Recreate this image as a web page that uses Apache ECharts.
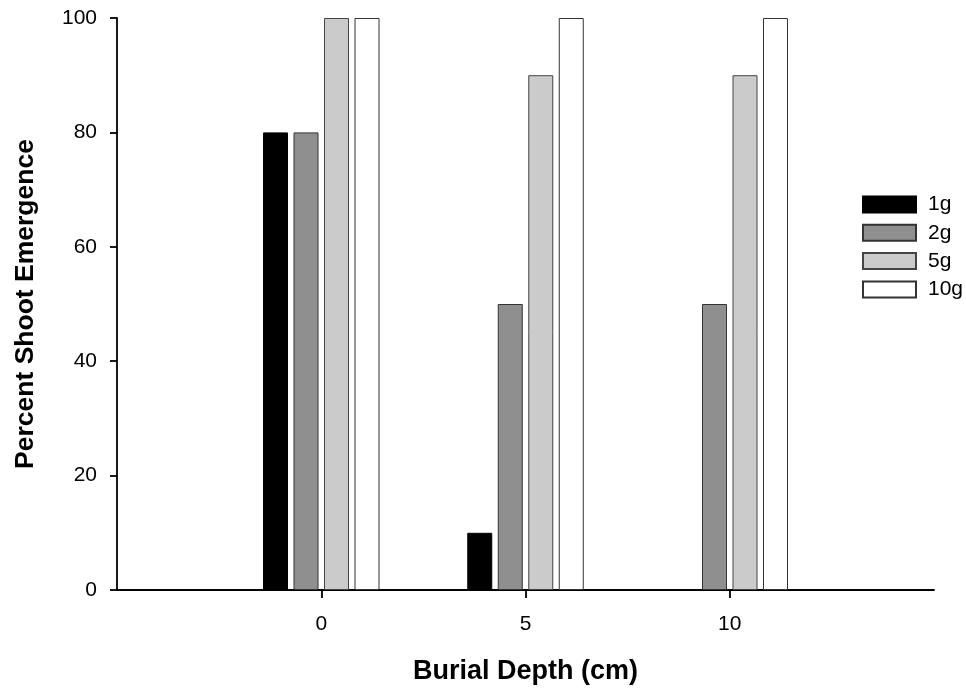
<!DOCTYPE html>
<html>
<head>
<meta charset="utf-8">
<script src="https://cdn.jsdelivr.net/npm/echarts@6/dist/echarts.min.js"></script>
<style>
html,body{margin:0;padding:0;background:#fff;}
#main{width:966px;height:688px;}
</style>
</head>
<body>
<div id="main"></div>
<script>
// Data
var depthLabels = ['0', '5', '10'];
var seriesNames = ['1g', '2g', '5g', '10g'];
var values1g = [80, 10, 0];
var values2g = [80, 50, 50];
var values5g = [100, 90, 90];
var values10g = [100, 100, 100];
var yTicks = [0, 20, 40, 60, 80, 100];

var fills = ['#000000', '#8f8f8f', '#cbcbcb', '#ffffff'];
var borders = ['#000000', '#333333', '#444444', '#333333'];
var FONT = 'Liberation Sans, Arial, sans-serif';

// pad the category axis with one empty slot each side (axis spans -5..15)
var cats = [''].concat(depthLabels, ['']);
function pad(arr) { return [null].concat(arr, [null]); }
var allValues = [values1g, values2g, values5g, values10g];

var chart = echarts.init(document.getElementById('main'), null, {renderer: 'canvas'});
var series = seriesNames.map(function (n, i) {
  return {
    name: n,
    type: 'bar',
    data: pad(allValues[i]),
    barWidth: 25,
    barGap: '22%',
    itemStyle: {color: fills[i], borderColor: borders[i], borderWidth: 1},
    emphasis: {disabled: true}
  };
});

chart.setOption({
  animation: false,
  backgroundColor: '#ffffff',
  grid: {left: 117, right: 32, top: 18, bottom: 98, containLabel: false, outerBoundsMode: 'none'},
  legend: {
    orient: 'vertical',
    left: 862,
    top: 194,
    padding: 0,
    itemWidth: 53,
    itemHeight: 16,
    itemGap: 7.3,
    icon: 'rect',
    data: seriesNames,
    textStyle: {fontFamily: FONT, fontSize: 21, color: '#000', padding: [0, 0, 0, 7]},
    selectedMode: false
  },
  xAxis: {
    type: 'category',
    data: cats,
    boundaryGap: false,
    name: 'Burial Depth (cm)',
    nameLocation: 'middle',
    nameGap: 68,
    nameTextStyle: {fontFamily: FONT, fontSize: 27, fontWeight: 'bold', color: '#000'},
    axisLine: {lineStyle: {color: '#000', width: 1.8}},
    axisTick: {
      show: true,
      length: 8,
      lineStyle: {color: '#000', width: 1.8},
      interval: function (idx, val) { return val !== ''; }
    },
    axisLabel: {
      fontFamily: FONT, fontSize: 21, color: '#000', margin: 24,
      interval: 0
    },
    splitLine: {show: false}
  },
  yAxis: {
    type: 'value',
    min: yTicks[0],
    max: yTicks[yTicks.length - 1],
    interval: yTicks[1] - yTicks[0],
    name: 'Percent Shoot Emergence',
    nameLocation: 'middle',
    nameGap: 78,
    nameTextStyle: {fontFamily: FONT, fontSize: 26.5, fontWeight: 'bold', color: '#000'},
    axisLine: {show: true, lineStyle: {color: '#000', width: 1.8}},
    axisTick: {show: true, length: 7, lineStyle: {color: '#000', width: 1.8}},
    axisLabel: {fontFamily: FONT, fontSize: 21, color: '#000', margin: 20},
    splitLine: {show: false}
  },
  series: series
});
</script>
</body>
</html>
